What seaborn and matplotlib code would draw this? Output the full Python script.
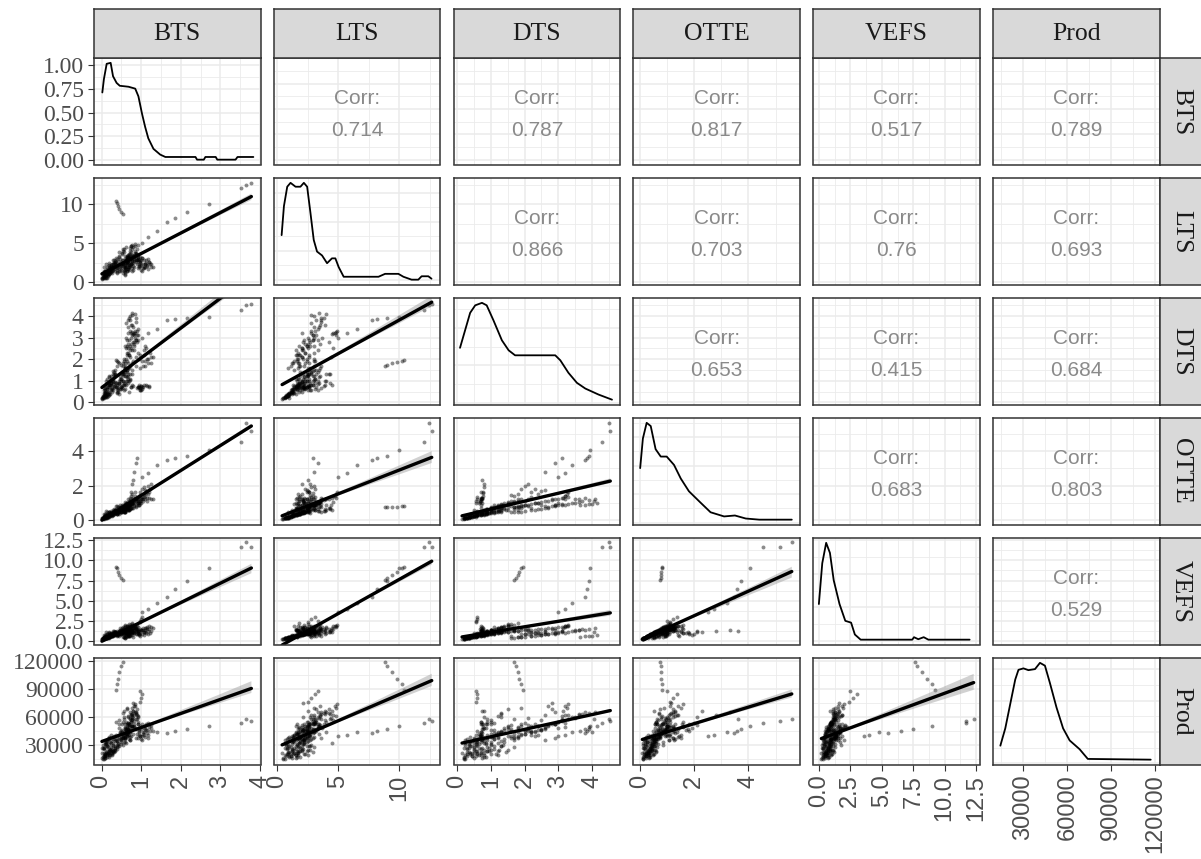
import matplotlib
matplotlib.use("Agg")
import numpy as np
import pandas as pd
import matplotlib.pyplot as plt
import seaborn as sns
from matplotlib.ticker import MaxNLocator, AutoMinorLocator

# ---------------- data ----------------
variables = ["BTS", "LTS", "DTS", "OTTE", "VEFS", "Prod"]

bts = [0.02, 0.05, 0.08, 0.10, 0.12, 0.15, 0.05, 0.18, 0.20, 0.22, 0.25, 0.28, 0.30, 0.10, 0.14, 0.03, 0.07, 0.24, 0.33, 0.35, 0.16, 0.20, 0.27, 0.12, 0.31,
       0.01, 0.04, 0.06, 0.09, 0.11, 0.13, 0.16, 0.19, 0.21, 0.23, 0.26, 0.29, 0.32, 0.34, 0.03, 0.08, 0.14, 0.17, 0.22, 0.28, 0.06, 0.12, 0.19, 0.25, 0.30, 0.02, 0.10, 0.15, 0.21, 0.33,
       0.05, 0.07, 0.09, 0.11, 0.13, 0.15, 0.18, 0.20, 0.23, 0.26, 0.28, 0.31, 0.34, 0.37, 0.39, 0.04, 0.10, 0.16, 0.24, 0.32, 0.08, 0.14, 0.20, 0.27, 0.35, 0.12, 0.18, 0.25, 0.30, 0.38,
       0.38, 0.40, 0.42, 0.45, 0.48, 0.50, 0.52, 0.55, 0.58, 0.60, 0.62, 0.65, 0.68, 0.70, 0.72, 0.44, 0.53, 0.57, 0.63, 0.66, 0.74, 0.41, 0.47, 0.59, 0.69,
       0.36, 0.39, 0.43, 0.46, 0.49, 0.51, 0.54, 0.56, 0.59, 0.61, 0.64, 0.67, 0.71, 0.73, 0.76, 0.37, 0.42, 0.47, 0.52, 0.57, 0.62, 0.68, 0.72, 0.78, 0.40, 0.45, 0.50, 0.55, 0.60, 0.65,
       0.45, 0.50, 0.55, 0.60, 0.65, 0.70, 0.75, 0.80, 0.85, 0.90, 0.48, 0.53, 0.58, 0.63, 0.68, 0.73, 0.78, 0.83, 0.88, 0.93, 0.52, 0.57, 0.62, 0.67, 0.72, 0.77, 0.82, 0.87, 0.64, 0.70,
       0.55, 0.60, 0.62, 0.65, 0.68, 0.70, 0.72, 0.75, 0.76, 0.78, 0.80, 0.82, 0.85, 0.88, 0.90, 0.58, 0.66, 0.74, 0.79, 0.84, 0.92, 0.95,
       0.56, 0.61, 0.64, 0.67, 0.71, 0.74, 0.77, 0.81, 0.86, 0.91, 0.59, 0.63, 0.69, 0.75, 0.83, 0.57, 0.66, 0.72, 0.79, 0.88, 0.60, 0.68, 0.76, 0.84, 0.93,
       0.90, 0.92, 0.94, 0.96, 0.98, 1.00, 1.02, 1.04, 1.06, 1.08, 1.10, 1.12, 1.14, 1.16, 1.18, 1.20, 1.22, 1.25, 0.91, 0.97, 1.03, 1.09, 1.13, 0.95, 1.07,
       0.74, 0.78, 0.82, 0.86, 0.90, 0.80,
       0.95, 1.00, 1.05, 1.10, 1.15, 1.20, 1.25, 1.30,
       0.62, 0.66, 0.70, 0.73, 0.77,
       1.02, 1.18, 1.40, 1.65, 1.86, 2.16, 2.71, 3.51, 3.64, 3.78,
       0.36, 0.38, 0.41, 0.45, 0.50, 0.53,
       0.98, 1.00, 1.02, 0.97]
lts = [0.5, 0.7, 0.9, 0.6, 1.1, 1.2, 1.4, 1.0, 1.5, 1.3, 1.8, 1.6, 2.0, 0.8, 1.7, 1.0, 1.9, 2.2, 1.4, 2.5, 0.9, 2.1, 1.2, 2.4, 2.8,
       0.4, 0.6, 0.8, 1.0, 0.7, 1.3, 1.1, 1.6, 1.2, 1.9, 1.5, 2.3, 1.7, 2.6, 0.9, 1.2, 0.6, 1.4, 2.0, 1.8, 1.1, 0.9, 2.2, 1.3, 2.0, 0.6, 1.5, 1.0, 1.7, 2.4,
       0.8, 0.5, 1.2, 0.9, 1.5, 1.0, 1.8, 1.3, 2.1, 1.6, 2.4, 1.9, 2.7, 2.2, 3.0, 0.7, 1.1, 0.8, 1.7, 2.5, 1.4, 1.9, 1.0, 2.3, 2.0, 0.6, 2.5, 1.4, 2.9, 1.8,
       1.6, 2.0, 1.8, 2.3, 2.6, 2.1, 2.8, 2.4, 3.0, 2.2, 2.9, 3.3, 2.7, 3.5, 3.1, 1.5, 2.5, 1.9, 2.6, 3.2, 2.4, 2.2, 3.0, 3.4, 2.0,
       2.6, 1.2, 3.3, 2.0, 1.6, 3.8, 2.4, 4.3, 1.9, 2.9, 1.4, 3.5, 2.2, 4.0, 1.8, 3.1, 2.7, 1.5, 3.6, 2.1, 4.5, 1.7, 3.0, 2.5, 1.3, 3.9, 2.3, 2.8, 1.6, 3.4,
       3.4, 1.8, 4.2, 2.5, 3.0, 1.6, 4.6, 2.1, 3.7, 2.8, 2.2, 4.0, 1.9, 3.2, 2.6, 4.4, 1.5, 3.5, 2.9, 4.8, 2.4, 3.9, 1.7, 3.1, 2.7, 4.3, 2.0, 3.6, 2.3, 3.3,
       1.2, 1.8, 2.5, 1.5, 3.0, 2.2, 3.6, 4.6, 2.8, 4.8, 4.5, 3.3, 4.9, 2.6, 4.2, 0.9, 2.0, 3.9, 1.6, 4.7, 3.0, 2.4,
       1.4, 2.0, 2.6, 1.7, 3.1, 2.3, 3.5, 2.9, 3.8, 3.3, 1.1, 2.4, 1.9, 3.0, 2.7, 1.6, 2.8, 2.1, 3.4, 3.6, 1.3, 2.5, 3.2, 4.0, 2.9,
       2.3, 1.8, 2.9, 2.1, 2.6, 1.6, 3.1, 2.4, 2.0, 2.8, 1.9, 2.5, 2.2, 3.0, 1.7, 2.6, 2.3, 2.0, 3.2, 2.7, 1.5, 2.4, 2.9, 2.1, 1.8,
       2.4, 2.7, 3.0, 3.3, 2.9, 2.5,
       2.0, 2.2, 1.8, 2.4, 2.1, 2.6, 2.3, 2.0,
       2.8, 3.2, 3.6, 3.0, 3.4,
       5.0, 5.75, 6.55, 7.75, 8.2, 8.95, 10.0, 12.05, 12.4, 12.65,
       10.4, 10.2, 9.8, 9.4, 9.0, 8.8,
       2.5, 2.8, 3.1, 3.3]
dts = [0.2, 0.3, 0.4, 0.25, 0.5, 0.6, 0.45, 0.35, 0.7, 0.8, 0.9, 0.55, 1.0, 0.3, 1.1, 0.2, 0.65, 1.2, 0.75, 1.3, 0.4, 0.85, 0.5, 1.0, 1.4,
       0.15, 0.25, 0.3, 0.45, 0.35, 0.6, 0.5, 0.8, 0.4, 0.9, 0.65, 1.1, 0.7, 1.3, 0.3, 0.5, 0.25, 0.7, 1.0, 0.85, 0.55, 0.35, 1.15, 0.6, 0.95, 0.2, 0.75, 0.45, 0.8, 1.2,
       0.35, 0.2, 0.55, 0.3, 0.7, 0.4, 0.9, 0.5, 1.1, 0.6, 1.3, 0.75, 1.5, 0.9, 1.7, 0.25, 0.45, 0.3, 0.8, 1.25, 0.6, 0.85, 0.4, 1.0, 0.95, 0.25, 1.2, 0.55, 1.45, 0.7,
       0.6, 0.8, 0.5, 0.9, 1.1, 0.7, 1.3, 1.0, 1.5, 0.6, 1.2, 1.4, 0.9, 1.6, 1.1, 0.4, 0.8, 0.55, 1.0, 1.3, 0.7, 0.65, 1.2, 1.5, 0.5,
       0.7, 0.5, 0.85, 0.6, 1.0, 0.75, 1.2, 0.9, 1.4, 1.0, 1.5, 1.2, 1.7, 1.3, 1.8, 0.9, 0.55, 1.1, 0.65, 1.3, 0.8, 1.6, 1.05, 1.5, 0.45, 1.0, 0.6, 1.35, 0.85, 1.15,
       0.9, 1.1, 1.3, 1.6, 1.9, 2.2, 2.5, 2.8, 3.0, 3.3, 0.7, 1.0, 1.2, 1.5, 1.8, 2.1, 2.4, 2.7, 2.9, 3.1, 1.4, 0.8, 2.0, 1.1, 2.6, 1.3, 3.2, 1.7, 2.3, 1.0,
       1.8, 2.6, 3.0, 2.2, 3.5, 2.9, 3.8, 3.2, 4.06, 3.25, 3.15, 2.4, 3.3, 2.1, 2.8, 1.6, 2.5, 3.6, 1.9, 3.2, 2.3, 2.0,
       1.9, 2.5, 2.9, 2.3, 3.3, 2.7, 3.6, 3.1, 3.9, 3.4, 1.7, 2.6, 2.2, 3.0, 2.8, 2.0, 3.2, 2.4, 3.5, 3.7, 1.8, 2.7, 3.1, 4.1, 2.9,
       0.65, 0.72, 0.78, 0.68, 2.2, 0.75, 1.9, 0.7, 2.4, 0.8, 1.7, 2.5, 0.74, 2.0, 1.8, 0.76, 2.3, 2.1, 0.7, 1.6, 0.73, 2.6, 0.78, 0.69, 2.2,
       0.7, 0.8, 2.6, 2.9, 3.1, 0.75,
       0.7, 0.75, 1.7, 1.9, 2.0, 0.72, 1.8, 2.1,
       3.65, 3.8, 3.9, 4.0, 4.15,
       3.0, 3.2, 3.4, 3.8, 3.85, 3.92, 3.95, 4.29, 4.49, 4.54,
       1.95, 1.9, 1.85, 1.8, 1.75, 1.7,
       0.55, 0.58, 0.6, 0.56]
otte = [0.10, 0.15, 0.20, 0.18, 0.25, 0.30, 0.22, 0.28, 0.35, 0.32, 0.40, 0.30, 0.45, 0.15, 0.50, 0.12, 0.38, 0.55, 0.42, 0.60, 0.20, 0.48, 0.26, 0.52, 0.65,
        0.08, 0.12, 0.16, 0.22, 0.18, 0.28, 0.24, 0.34, 0.26, 0.40, 0.32, 0.48, 0.36, 0.55, 0.14, 0.22, 0.13, 0.30, 0.44, 0.38, 0.20, 0.17, 0.50, 0.27, 0.42, 0.10, 0.33, 0.21, 0.37, 0.58,
        0.14, 0.09, 0.24, 0.15, 0.30, 0.19, 0.36, 0.25, 0.42, 0.30, 0.50, 0.37, 0.56, 0.44, 0.62, 0.11, 0.21, 0.16, 0.34, 0.52, 0.27, 0.38, 0.20, 0.46, 0.41, 0.12, 0.49, 0.28, 0.60, 0.35,
        0.40, 0.55, 0.45, 0.60, 0.75, 0.50, 0.85, 0.70, 0.95, 0.55, 0.80, 1.00, 0.65, 1.10, 0.90, 0.35, 0.60, 0.50, 0.75, 0.95, 0.70, 0.45, 0.85, 1.05, 0.60,
        0.45, 0.38, 0.55, 0.47, 0.65, 0.55, 0.75, 0.62, 0.85, 0.70, 0.92, 0.80, 1.05, 0.88, 1.12, 0.58, 0.42, 0.68, 0.50, 0.78, 0.60, 0.98, 0.72, 1.02, 0.36, 0.66, 0.48, 0.86, 0.64, 0.78,
        0.55, 0.62, 0.70, 0.80, 0.88, 0.95, 1.05, 1.15, 1.25, 1.35, 0.48, 0.58, 0.66, 0.74, 0.82, 0.90, 1.00, 1.10, 1.20, 1.30, 0.72, 0.52, 0.86, 0.60, 1.08, 0.68, 1.22, 0.78, 0.98, 0.64,
        0.6, 0.8, 1.0, 0.7, 1.2, 0.9, 1.3, 1.4, 1.1, 1.5, 1.3, 1.0, 1.6, 0.8, 1.2, 0.5, 0.9, 1.2, 0.7, 1.4, 1.0, 0.9,
        0.50, 0.65, 0.80, 0.58, 0.95, 0.70, 1.05, 0.88, 1.15, 1.00, 0.45, 0.72, 0.60, 0.90, 0.82, 0.52, 0.85, 0.66, 1.02, 1.10, 0.48, 0.76, 0.94, 1.20, 0.86,
        1.0, 1.2, 1.4, 1.1, 1.6, 1.3, 1.8, 1.2, 1.5, 1.9, 1.4, 1.7, 1.3, 2.0, 1.5, 1.6, 1.8, 2.1, 1.1, 1.45, 1.25, 1.75, 1.55, 1.05, 1.35,
        1.6, 2.1, 2.8, 3.3, 3.6, 2.3,
        0.9, 1.0, 1.1, 1.2, 1.1, 1.3, 1.2, 1.25,
        0.85, 0.9, 0.95, 0.92, 0.98,
        2.5, 2.74, 3.2, 3.45, 3.58, 3.73, 4.06, 4.54, 5.6, 5.15,
        0.82, 0.80, 0.78, 0.77, 0.76, 0.75,
        1.1, 1.2, 1.35, 1.0]
vefs = [0.25, 0.35, 0.45, 0.30, 0.55, 0.60, 0.50, 0.40, 0.70, 0.65, 0.80, 0.55, 0.90, 0.40, 0.85, 0.30, 0.75, 1.00, 0.70, 1.10, 0.45, 0.95, 0.60, 1.05, 1.20,
        0.2, 0.3, 0.35, 0.5, 0.4, 0.6, 0.55, 0.75, 0.5, 0.85, 0.65, 1.0, 0.7, 1.15, 0.3, 0.45, 0.3, 0.65, 0.9, 0.8, 0.5, 0.4, 1.05, 0.6, 0.85, 0.25, 0.7, 0.45, 0.75, 1.1,
        0.35, 0.2, 0.5, 0.3, 0.6, 0.4, 0.75, 0.5, 0.85, 0.6, 1.0, 0.7, 1.1, 0.85, 1.25, 0.25, 0.45, 0.35, 0.7, 1.05, 0.55, 0.8, 0.45, 0.95, 0.85, 0.3, 1.0, 0.6, 1.2, 0.75,
        0.8, 1.0, 0.7, 1.2, 1.4, 0.9, 1.6, 1.3, 1.8, 1.0, 1.5, 1.9, 1.2, 2.1, 1.7, 0.6, 1.1, 0.9, 1.4, 1.7, 1.2, 0.8, 1.6, 2.0, 1.0,
        0.9, 0.7, 1.1, 0.85, 1.3, 1.05, 1.5, 1.2, 1.7, 1.3, 1.8, 1.55, 2.0, 1.7, 2.2, 1.1, 0.8, 1.35, 0.95, 1.6, 1.15, 1.9, 1.4, 2.1, 0.65, 1.25, 0.9, 1.75, 1.2, 1.5,
        0.9, 1.0, 1.1, 1.2, 1.3, 1.4, 1.5, 1.6, 1.7, 1.8, 0.8, 0.95, 1.05, 1.15, 1.25, 1.35, 1.45, 1.55, 1.65, 1.75, 1.1, 0.9, 1.3, 1.0, 1.5, 1.1, 1.7, 1.2, 1.4, 1.0,
        0.5, 0.8, 1.0, 0.6, 1.2, 0.9, 1.3, 1.8, 1.1, 1.9, 1.6, 1.0, 2.0, 0.8, 1.5, 0.4, 0.7, 1.3, 0.5, 1.8, 1.0, 0.8,
        0.45, 0.7, 0.95, 0.55, 1.15, 0.8, 1.35, 1.05, 1.5, 1.25, 0.4, 0.85, 0.65, 1.1, 0.95, 0.5, 1.0, 0.75, 1.3, 1.45, 0.42, 0.9, 1.2, 1.6, 1.0,
        0.8, 1.2, 0.7, 1.5, 1.0, 1.3, 0.9, 1.6, 1.1, 0.75, 1.4, 1.0, 1.7, 0.85, 1.25, 1.5, 0.95, 1.2, 1.4, 0.65, 1.35, 1.05, 1.6, 0.9, 1.15,
        1.0, 1.1, 1.2, 1.3, 1.25, 1.15,
        1.2, 1.4, 1.3, 1.6, 1.5, 1.8, 1.7, 1.6,
        0.5, 0.55, 0.6, 0.65, 0.7,
        3.6, 4.0, 4.75, 5.5, 6.5, 7.5, 9.0, 11.7, 12.3, 11.7,
        9.2, 9.0, 8.6, 8.2, 7.8, 7.6,
        2.4, 2.7, 3.0, 2.5]
prod = [16000, 18000, 20000, 19000, 22000, 24000, 21000, 23000, 26000, 25000, 28000, 24000, 30000, 20000, 29000, 17000, 27000, 32000, 27000, 34000, 22000, 31000, 25000, 33000, 36000,
        22000, 15000, 26000, 18000, 31000, 20000, 28000, 17000, 33000, 24000, 19000, 36000, 23000, 29000, 27000, 16500, 35000, 21000, 25000, 32000, 18500, 30000, 20500, 34000, 23500, 26500, 16000, 28500, 19500, 24000,
        27000, 15500, 31000, 22500, 19000, 34000, 24000, 38000, 26000, 21000, 29500, 40000, 25000, 35500, 28000, 30000, 18000, 36000, 22000, 24500, 33000, 17500, 39000, 20000, 26500, 32500, 19500, 41000, 23000, 37000,
        30000, 34000, 32000, 37000, 40000, 35000, 44000, 39000, 47000, 36000, 43000, 48000, 41000, 51000, 46000, 29000, 38000, 33000, 42000, 45000, 40000, 31000, 44000, 49000, 36000,
        41000, 26000, 48000, 36000, 31000, 52000, 38000, 58000, 33000, 46000, 40000, 61000, 35000, 44000, 49000, 55000, 29000, 43000, 37000, 60000, 32000, 47000, 39000, 50000, 34000, 57000, 45000, 30000, 53000, 42000,
        52000, 36000, 64000, 45000, 70000, 41000, 57000, 75000, 48000, 62000, 33000, 55000, 39000, 68000, 44000, 59000, 50000, 72000, 37000, 61000, 46000, 66000, 42000, 54000, 35000, 63000, 49000, 58000, 40000, 53000,
        40000, 48000, 55000, 44000, 60000, 52000, 65000, 62000, 58000, 70000, 66000, 50000, 74000, 47000, 68000, 38000, 46000, 63000, 42000, 72000, 53000, 45000,
        41000, 47000, 53000, 44000, 58000, 50000, 62000, 56000, 64000, 60000, 38000, 49000, 45000, 55000, 52000, 42000, 54000, 46000, 59000, 63000, 39000, 51000, 57000, 65000, 53000,
        42000, 38000, 47000, 40000, 50000, 36000, 52000, 44000, 41000, 48000, 39000, 46000, 43000, 54000, 37000, 49000, 45000, 51000, 55000, 40000, 35000, 47000, 53000, 41000, 44000,
        55000, 60000, 62000, 65000, 58000, 66000,
        44000, 47000, 42000, 50000, 46000, 52000, 48000, 45000,
        45000, 47000, 49000, 44000, 50000,
        40000, 41000, 43900, 42800, 45300, 47100, 49900, 53500, 57800, 56000,
        89000, 95000, 101000, 108000, 114000, 119000,
        76000, 80000, 84000, 88000]

# diagonal density curves
bts_dens_x = [0.02, 0.06, 0.13, 0.23, 0.29, 0.38, 0.46, 0.68, 0.85, 0.93, 1.02, 1.10, 1.18, 1.31, 1.48, 1.61, 1.99, 2.37, 2.41, 2.58, 2.62, 2.88, 2.92, 3.38, 3.43, 3.83]
bts_dens_y = [0.71, 0.85, 1.01, 1.02, 0.88, 0.81, 0.78, 0.77, 0.75, 0.67, 0.49, 0.35, 0.23, 0.12, 0.06, 0.035, 0.035, 0.035, 0.007, 0.007, 0.035, 0.035, 0.007, 0.007, 0.035, 0.035]
lts_dens_x = [0.36, 0.55, 0.82, 1.09, 1.5, 1.9, 2.18, 2.45, 2.72, 2.99, 3.26, 3.67, 4.08, 4.48, 4.76, 5.03, 5.44, 8.29, 8.83, 9.92, 10.33, 11.0, 11.55, 11.82, 12.37, 12.63]
lts_dens_y = [0.092, 0.152, 0.192, 0.2, 0.192, 0.192, 0.2, 0.192, 0.138, 0.082, 0.058, 0.05, 0.034, 0.044, 0.044, 0.026, 0.006, 0.006, 0.012, 0.012, 0.006, 0.0, 0.0, 0.007, 0.007, 0.002]
dts_dens_x = [0.09, 0.24, 0.39, 0.54, 0.74, 0.88, 1.08, 1.33, 1.53, 1.72, 2.91, 3.06, 3.3, 3.55, 3.8, 4.19, 4.59]
dts_dens_y = [0.22, 0.29, 0.36, 0.39, 0.40, 0.39, 0.33, 0.25, 0.21, 0.19, 0.19, 0.17, 0.12, 0.08, 0.057, 0.033, 0.0125]
otte_dens_x = [0.0, 0.1, 0.24, 0.39, 0.57, 0.76, 0.98, 1.25, 1.5, 1.8, 2.2, 2.6, 3.1, 3.5, 3.9, 4.4, 5.6]
otte_dens_y = [0.287, 0.443, 0.526, 0.509, 0.387, 0.348, 0.348, 0.304, 0.232, 0.165, 0.109, 0.054, 0.032, 0.037, 0.021, 0.015, 0.015]
vefs_dens_x = [0.0, 0.27, 0.58, 0.88, 1.18, 1.64, 2.1, 2.56, 2.86, 3.32, 7.42, 7.56, 7.9, 8.33, 8.7, 11.98]
vefs_dens_y = [0.165, 0.347, 0.438, 0.393, 0.271, 0.165, 0.09, 0.082, 0.029, 0.006, 0.006, 0.017, 0.008, 0.017, 0.006, 0.006]
prod_dens_x = [14220, 17600, 21000, 24400, 26600, 30000, 33400, 37900, 41300, 44700, 48100, 52600, 57100, 61600, 68400, 74000, 117000]
prod_dens_y = [1.69e-6, 3.35e-6, 5.69e-6, 8.02e-6, 8.95e-6, 9.09e-6, 8.92e-6, 9.02e-6, 9.62e-6, 9.35e-6, 7.69e-6, 5.35e-6, 3.35e-6, 2.19e-6, 1.35e-6, 0.42e-6, 0.35e-6]

corr_labels = ["0.714", "0.787", "0.817", "0.517", "0.789",
               "0.866", "0.703", "0.76", "0.693",
               "0.653", "0.415", "0.684",
               "0.683", "0.803",
               "0.529"]

density_ticks = [0.0, 0.25, 0.5, 0.75, 1.0]
density_ticklabels = ["0.00", "0.25", "0.50", "0.75", "1.00"]

# ---------------- scales (layout) ----------------
limits = {"BTS": (-0.19, 4.01), "LTS": (-0.28, 13.35), "DTS": (-0.1, 4.83),
          "OTTE": (-0.25, 5.9), "VEFS": (-0.45, 12.78), "Prod": (9200, 123000)}
major = {"BTS": [0, 1, 2, 3, 4], "LTS": [0, 5, 10], "DTS": [0, 1, 2, 3, 4],
         "OTTE": [0, 2, 4], "VEFS": [0, 2.5, 5, 7.5, 10, 12.5],
         "Prod": [30000, 60000, 90000, 120000]}
labels = {"BTS": ["0", "1", "2", "3", "4"], "LTS": ["0", "5", "10"],
          "DTS": ["0", "1", "2", "3", "4"], "OTTE": ["0", "2", "4"],
          "VEFS": ["0.0", "2.5", "5.0", "7.5", "10.0", "12.5"],
          "Prod": ["30000", "60000", "90000", "120000"]}


def minor_of(ticks, lim):
    step = ticks[1] - ticks[0]
    m = [t + step / 2 for t in [ticks[0] - step] + list(ticks)]
    return [v for v in m if lim[0] <= v <= lim[1]]


df = pd.DataFrame({"BTS": bts, "LTS": lts, "DTS": dts, "OTTE": otte, "VEFS": vefs, "Prod": prod})
dens = {"BTS": (bts_dens_x, bts_dens_y), "LTS": (lts_dens_x, lts_dens_y),
        "DTS": (dts_dens_x, dts_dens_y), "OTTE": (otte_dens_x, otte_dens_y),
        "VEFS": (vefs_dens_x, vefs_dens_y), "Prod": (prod_dens_x, prod_dens_y)}

sns.set_theme(style="white")
plt.rcParams["font.family"] = ["Liberation Sans", "DejaVu Sans"]

W, H = 1201, 859
fig = plt.figure(figsize=(W / 100, H / 100), dpi=100)


def rect(x, y, w, h):
    return [x / W, 1 - (y + h) / H, w / W, h / H]


col_left = [94 + 179.8 * i for i in range(6)]
row_top = [58 + 120 * j for j in range(6)]
pw, ph = 166.5, 106.5
border = "#333333"
gridc = "#EBEBEB"
tickc = "#4D4D4D"

k = 0
for r in range(6):
    for c in range(6):
        ax = fig.add_axes(rect(col_left[c], row_top[r], pw, ph))
        ax.set_facecolor("white")
        xv, yv = variables[c], variables[r]
        if r > c:
            sns.regplot(data=df, x=xv, y=yv, ax=ax, ci=50, seed=3, n_boot=400,
                        scatter_kws=dict(s=8, alpha=0.45, color="black", linewidths=0),
                        line_kws=dict(color="black", lw=2.4))
            for coll in ax.collections[1:]:
                coll.set_facecolor("#999999")
                coll.set_alpha(0.45)
                coll.set_edgecolor("none")
        elif r == c:
            dx, dy = dens[xv]
            sns.lineplot(x=dx, y=dy, ax=ax, color="black", lw=1.3, estimator=None, sort=False)
        else:
            ax.text(0.5, 0.62, "Corr:", transform=ax.transAxes, ha="center", va="center",
                    fontsize=15, color="#8A8A8A", family="Liberation Sans")
            ax.text(0.5, 0.32, corr_labels[k], transform=ax.transAxes, ha="center", va="center",
                    fontsize=15, color="#8A8A8A", family="Liberation Sans")
            k += 1

        ax.set_xlabel("")
        ax.set_ylabel("")
        ax.set_xlim(*limits[xv])
        ax.set_xticks(major[xv])
        ax.set_xticks(minor_of(major[xv], limits[xv]), minor=True)
        if r == c:
            dy = dens[xv][1]
            mx, mn = max(dy), min(dy)
            rng = mx - mn
            ax.set_ylim(mn - 0.05 * rng, mx + 0.05 * rng)
            if r == 0:
                ax.set_yticks(density_ticks)
                ax.set_yticks([0.125, 0.375, 0.625, 0.875], minor=True)
            else:
                ax.yaxis.set_major_locator(MaxNLocator(4))
                ax.yaxis.set_minor_locator(AutoMinorLocator(2))
        else:
            ax.set_ylim(*limits[yv])
            ax.set_yticks(major[yv])
            ax.set_yticks(minor_of(major[yv], limits[yv]), minor=True)

        ax.grid(True, which="major", color=gridc, lw=1.1)
        ax.grid(True, which="minor", color=gridc, lw=0.6)
        ax.set_axisbelow(True)
        for sp in ax.spines.values():
            sp.set_color(border)
            sp.set_linewidth(1.1)
            sp.set_visible(True)
        ax.tick_params(which="minor", length=0)
        ax.tick_params(which="major", length=4.3, width=0.8, color=border, pad=3)

        if c == 0:
            if r == 0:
                ax.set_yticks(density_ticks)
                ax.set_yticklabels(density_ticklabels, family="Liberation Serif", fontsize=17, color=tickc)
            else:
                ax.set_yticklabels(labels[yv], family="Liberation Serif", fontsize=17, color=tickc)
            ax.tick_params(axis="y", left=True)
        else:
            ax.tick_params(axis="y", left=False, labelleft=False)
        if r == 5:
            ax.set_xticklabels(labels[xv], rotation=90, family="Liberation Sans", fontsize=17, color=tickc)
            ax.tick_params(axis="x", bottom=True)
        else:
            ax.tick_params(axis="x", bottom=False, labelbottom=False)

# strips
for c in range(6):
    sax = fig.add_axes(rect(col_left[c], 9, pw, 49))
    sax.set_facecolor("#D9D9D9")
    sax.set_xticks([]); sax.set_yticks([])
    for sp in sax.spines.values():
        sp.set_color(border); sp.set_linewidth(1.1); sp.set_visible(True)
    sax.text(0.5, 0.5, variables[c], ha="center", va="center", transform=sax.transAxes,
             fontsize=18.5, color="#1A1A1A", family="Liberation Serif")
for r in range(6):
    sax = fig.add_axes(rect(col_left[5] + pw, row_top[r], 46, ph))
    sax.set_facecolor("#D9D9D9")
    sax.set_xticks([]); sax.set_yticks([])
    for sp in sax.spines.values():
        sp.set_color(border); sp.set_linewidth(1.1); sp.set_visible(True)
    sax.text(0.47, 0.5, variables[r], ha="center", va="center", transform=sax.transAxes,
             rotation=-90, fontsize=18.5, color="#1A1A1A", family="Liberation Serif")

fig.savefig("out.png", dpi=100, facecolor="white")
